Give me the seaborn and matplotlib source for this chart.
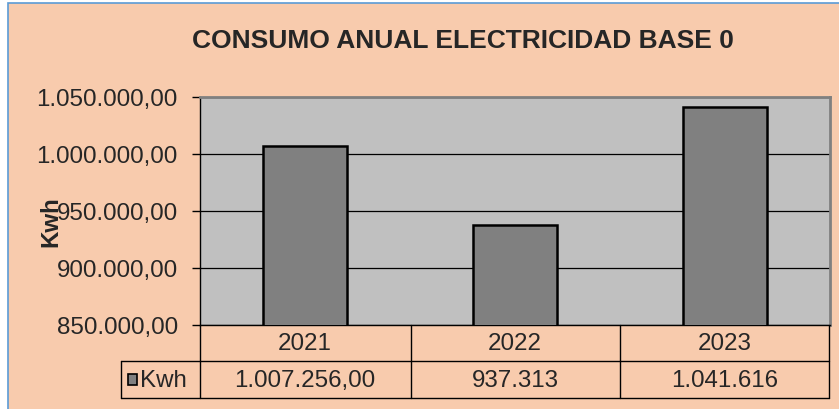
import matplotlib
matplotlib.use("Agg")
import matplotlib.pyplot as plt
import seaborn as sns
import pandas as pd
from matplotlib.ticker import FuncFormatter, MultipleLocator
from matplotlib.lines import Line2D
from matplotlib.patches import Rectangle
import matplotlib.transforms as mtransforms

# ---- data ----
years = ["2021", "2022", "2023"]
kwh = [1007256.00, 937313, 1041616]
table_labels = ["1.007.256,00", "937.313", "1.041.616"]
series_name = "Kwh"
title = "CONSUMO ANUAL ELECTRICIDAD BASE 0"
y_min, y_max, y_step = 850000, 1050000, 50000

sns.set_style("white")
plt.rcParams['font.family'] = ['Liberation Sans', 'DejaVu Sans']

W, H = 839, 410
fig = plt.figure(figsize=(W / 100, H / 100), dpi=100, facecolor="white")

def fx(x):
    return x / W

def fy(y):
    return 1 - y / H

PEACH = "#F8CBAD"
BLUE = "#5B9BD5"

# chart background with blue border
bg = Rectangle((fx(8), fy(420)), fx(850) - fx(8), fy(4) - fy(420),
               transform=fig.transFigure, facecolor=PEACH, edgecolor=BLUE,
               linewidth=1.2, zorder=0)
fig.add_artist(bg)

L, R, T, B = 200, 830, 98, 326
ax = fig.add_axes([fx(L), fy(B), fx(R) - fx(L), fy(T) - fy(B)])
ax.set_facecolor("#C0C0C0")

df = pd.DataFrame({"year": years, "kwh": kwh})
sns.barplot(data=df, x="year", y="kwh", ax=ax, color="#808080", width=0.4,
            edgecolor="black", linewidth=1.8, saturation=1, zorder=3)

ax.set_ylim(y_min, y_max)
ax.set_xlim(-0.5, len(years) - 0.5)
ax.yaxis.set_major_locator(MultipleLocator(y_step))

def fmt(v, pos):
    s = f"{int(round(v)):,}".replace(",", ".")
    return s + ",00"

ax.yaxis.set_major_formatter(FuncFormatter(fmt))
ax.tick_params(axis="y", which="major", direction="out", length=5.5,
               width=1, color="black", labelsize=17.4, pad=10.5, left=True)
ax.tick_params(axis="x", bottom=False, labelbottom=False)
ax.set_xlabel("")
ax.set_ylabel("")
ax.grid(axis="y", color="black", linewidth=0.9, zorder=1)
ax.set_axisbelow(True)
for s in ["top", "right"]:
    ax.spines[s].set_color("#808080")
    ax.spines[s].set_linewidth(2)
for s in ["left", "bottom"]:
    ax.spines[s].set_color("black")
    ax.spines[s].set_linewidth(1)

# title and axis label
fig.text(fx(462.5), fy(41), title, ha="center", va="center",
         fontsize=19, fontweight="bold")
fig.text(fx(51), fy(222), series_name, ha="center", va="center",
         rotation=90, fontsize=17.4, fontweight="bold")

# data table
def hline(y, x0, x1):
    fig.add_artist(Line2D([fx(x0), fx(x1)], [fy(y), fy(y)],
                          transform=fig.transFigure, color="black", linewidth=1))

def vline(x, y0, y1):
    fig.add_artist(Line2D([fx(x), fx(x)], [fy(y0), fy(y1)],
                          transform=fig.transFigure, color="black", linewidth=1))

hline(362, 121, 829)
hline(399, 121, 829)
for xv in [200, 411, 620, 829]:
    vline(xv, 326, 399)
vline(121, 362, 399)

trans = mtransforms.blended_transform_factory(ax.transData, fig.transFigure)
for i, (yr, lab) in enumerate(zip(years, table_labels)):
    ax.text(i, fy(344), yr, transform=trans, ha="center", va="center",
            fontsize=17.4, clip_on=False)
    ax.text(i, fy(381), lab, transform=trans, ha="center", va="center",
            fontsize=17.4, clip_on=False)

# legend key in table
key = Rectangle((fx(128), fy(386)), fx(137) - fx(128), fy(375) - fy(386),
                transform=fig.transFigure, facecolor="#808080",
                edgecolor="black", linewidth=1.2)
fig.add_artist(key)
fig.text(fx(140), fy(381), series_name, ha="left", va="center", fontsize=17.4)

fig.savefig("out.png", dpi=100, facecolor="white")
